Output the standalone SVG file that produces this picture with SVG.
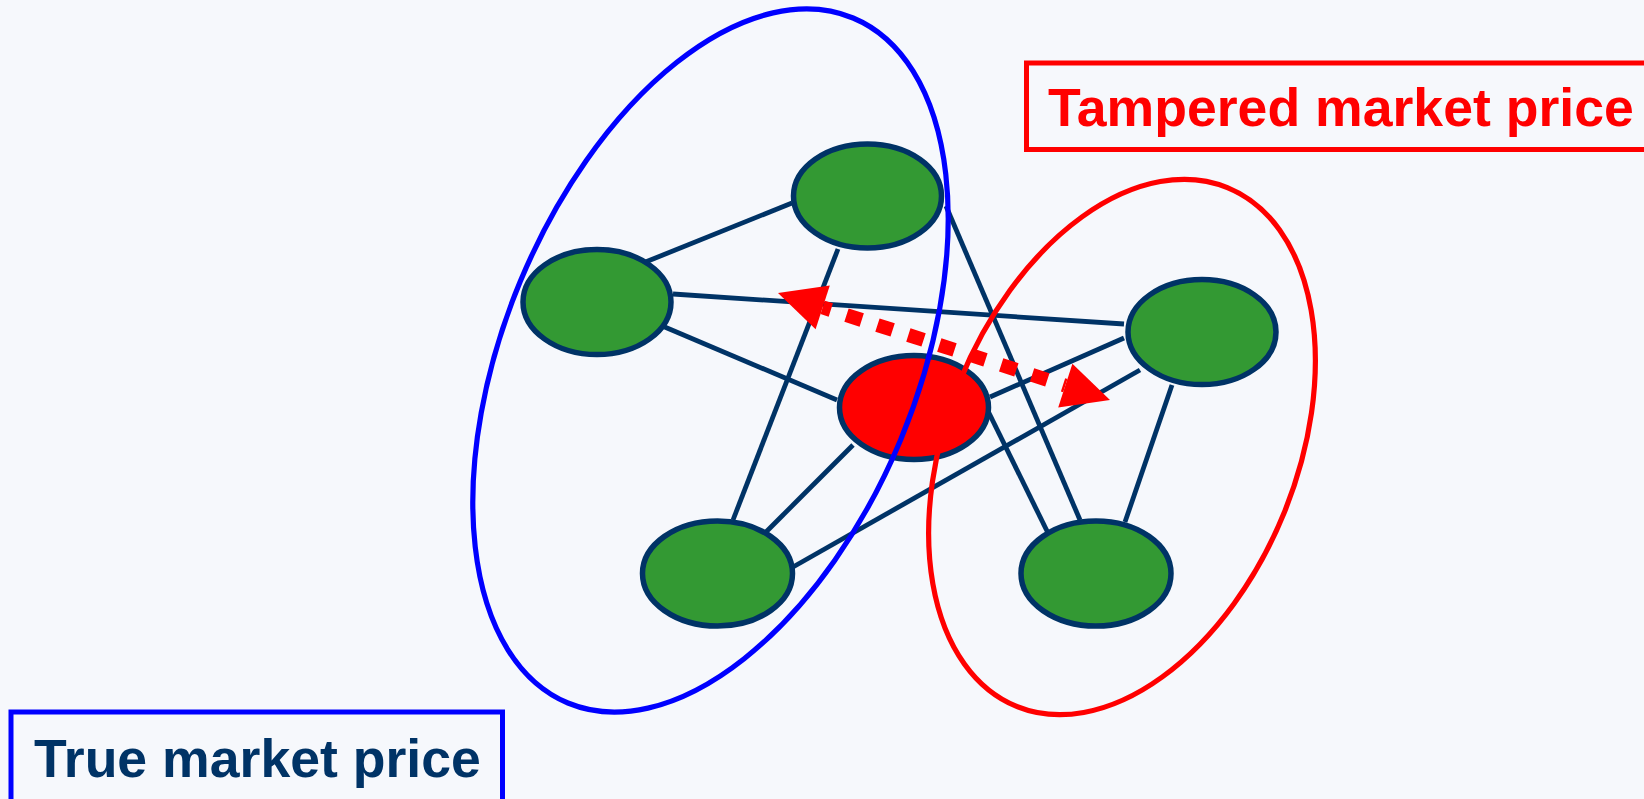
<svg xmlns="http://www.w3.org/2000/svg" width="1644" height="799" viewBox="0 0 1644 799">
  <defs>
    <style>
      .edge { stroke: #003366; stroke-width: 4.8; fill: none; }
      .node { stroke: #003366; stroke-width: 5.5; }
      .peer { fill: #339933; }
      .rogue { fill: #FF0000; }
      .label { font-family: "Liberation Sans", Arial, sans-serif; font-weight: bold; font-size: 53.6px; }
      .tamper { stroke: #FF0000; stroke-width: 14; fill: none; stroke-dasharray: 16 16.5; stroke-dashoffset: 7.5; }
    </style>
  </defs>

  <rect x="0" y="0" width="1644" height="799" fill="#F6F8FC"/>

  <!-- links between market participants -->
  <g id="connectors">
    <line class="edge" x1="643" y1="263" x2="792" y2="203"/>
    <line class="edge" x1="673" y1="294" x2="1124" y2="324"/>
    <line class="edge" x1="660" y1="325" x2="837" y2="400"/>
    <line class="edge" x1="838" y1="249" x2="733" y2="520"/>
    <line class="edge" x1="946" y1="206" x2="1080" y2="520"/>
    <line class="edge" x1="853" y1="445" x2="765" y2="533"/>
    <line class="edge" x1="990" y1="397" x2="1124" y2="338"/>
    <line class="edge" x1="988" y1="411" x2="1048" y2="533"/>
    <line class="edge" x1="793" y1="567" x2="1140" y2="370"/>
    <line class="edge" x1="1172" y1="385" x2="1125" y2="522"/>
  </g>

  <!-- participants -->
  <g id="node-top"><ellipse class="node peer" cx="867.5" cy="196" rx="74" ry="52"/></g>
  <g id="node-left"><ellipse class="node peer" cx="597" cy="302" rx="74" ry="52.5"/></g>
  <g id="node-center"><ellipse class="node rogue" cx="914" cy="407.5" rx="74.5" ry="52"/></g>
  <g id="node-right"><ellipse class="node peer" cx="1202" cy="332" rx="74" ry="52.5"/></g>
  <g id="node-bottom-right"><ellipse class="node peer" cx="1096" cy="573.5" rx="75" ry="52.5"/></g>
  <g id="node-bottom-left"><ellipse class="node peer" cx="717.5" cy="573.5" rx="75" ry="52.5"/></g>

  <!-- market groupings -->
  <g id="group-true">
    <ellipse cx="710.5" cy="360.5" rx="371" ry="206" transform="rotate(-67.4 710.5 360.5)" fill="none" stroke="#0000FF" stroke-width="5.2"/>
  </g>
  <g id="group-tampered">
    <ellipse cx="1122" cy="447" rx="280" ry="175" transform="rotate(-67.9 1122 447)" fill="none" stroke="#FF0000" stroke-width="5.2"/>
  </g>

  <!-- two-way tampering arrow -->
  <g id="tamper-arrow">
    <line class="tamper" x1="822.7" y1="307.4" x2="1065.3" y2="385.6"/>
    <polygon points="778,293 829.8,285.5 815.6,329.3" fill="#FF0000"/>
    <polygon points="1110,400 1058.2,407.5 1072.4,363.7" fill="#FF0000"/>
  </g>

  <!-- captions -->
  <g id="label-tampered">
    <rect x="1026.5" y="63" width="700" height="86.5" fill="none" stroke="#FF0000" stroke-width="5"/>
    <text class="label" x="1048" y="126" fill="#FF0000">Tampered market price</text>
  </g>
  <g id="label-true">
    <rect x="11" y="712" width="491.5" height="120" fill="none" stroke="#0000FF" stroke-width="5"/>
    <text class="label" x="34" y="777" fill="#003366">True market price</text>
  </g>
</svg>
